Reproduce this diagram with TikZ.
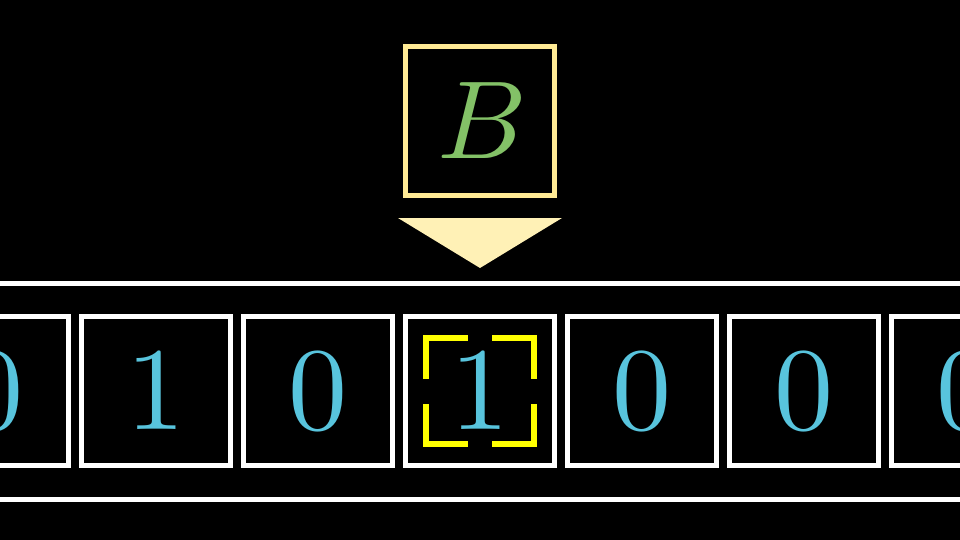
\documentclass[tikz,border=0pt]{standalone}
\usetikzlibrary{positioning}
\definecolor{digitblue}{HTML}{58C4DD}
\definecolor{symgreen}{HTML}{83C167}
\definecolor{headgold}{HTML}{FFEA94}
\definecolor{pointergold}{HTML}{FFF1B6}
\definecolor{markyellow}{HTML}{FFFF00}
\font\headsymbol=cmmi10 at 111pt
\font\celldigit=cmr10 at 118pt
\begin{document}
\begin{tikzpicture}[x=1pt, y=-1pt,
        cell/.style={draw=white, line width=5pt, minimum size=149pt, inner sep=0pt,
            text=digitblue, font=\celldigit},
        head/.style={draw=headgold, line width=5pt, minimum size=149pt, inner sep=0pt,
            text=symgreen, font=\headsymbol},
        tape/.style={white, line width=5pt},
        bracket/.style={markyellow, line width=6pt}
    ]
    % Background
    \clip (0,0) rectangle (960,540);
    \fill[black] (0,0) rectangle (960,540);
    % Head
    \node[head] (H) at (480,121) {B};
    \fill[pointergold] (398,218) -- (562,218) -- (480,268) -- cycle;
    % Tape
    \draw[tape] (0,283.5) -- (960,283.5);
    \draw[tape] (0,499) -- (960,499);
    % Cells
    \node[cell] (C4) at (480,391) {1};
    \node[cell, left=8pt of C4] (C3) {0};
    \node[cell, left=8pt of C3] (C2) {1};
    \node[cell, left=8pt of C2] (C1) {0};
    \node[cell, right=8pt of C4] (C5) {0};
    \node[cell, right=8pt of C5] (C6) {0};
    \node[cell, right=8pt of C6] (C7) {0};
    % Brackets
    \draw[bracket] ([shift={(-54,-12)}]C4.center) -- ([shift={(-54,-53)}]C4.center) -- ([shift={(-12,-53)}]C4.center);
    \draw[bracket] ([shift={(12,-53)}]C4.center) -- ([shift={(54,-53)}]C4.center) -- ([shift={(54,-12)}]C4.center);
    \draw[bracket] ([shift={(-54,13)}]C4.center) -- ([shift={(-54,53)}]C4.center) -- ([shift={(-12,53)}]C4.center);
    \draw[bracket] ([shift={(12,53)}]C4.center) -- ([shift={(54,53)}]C4.center) -- ([shift={(54,13)}]C4.center);
\end{tikzpicture}
\end{document}
